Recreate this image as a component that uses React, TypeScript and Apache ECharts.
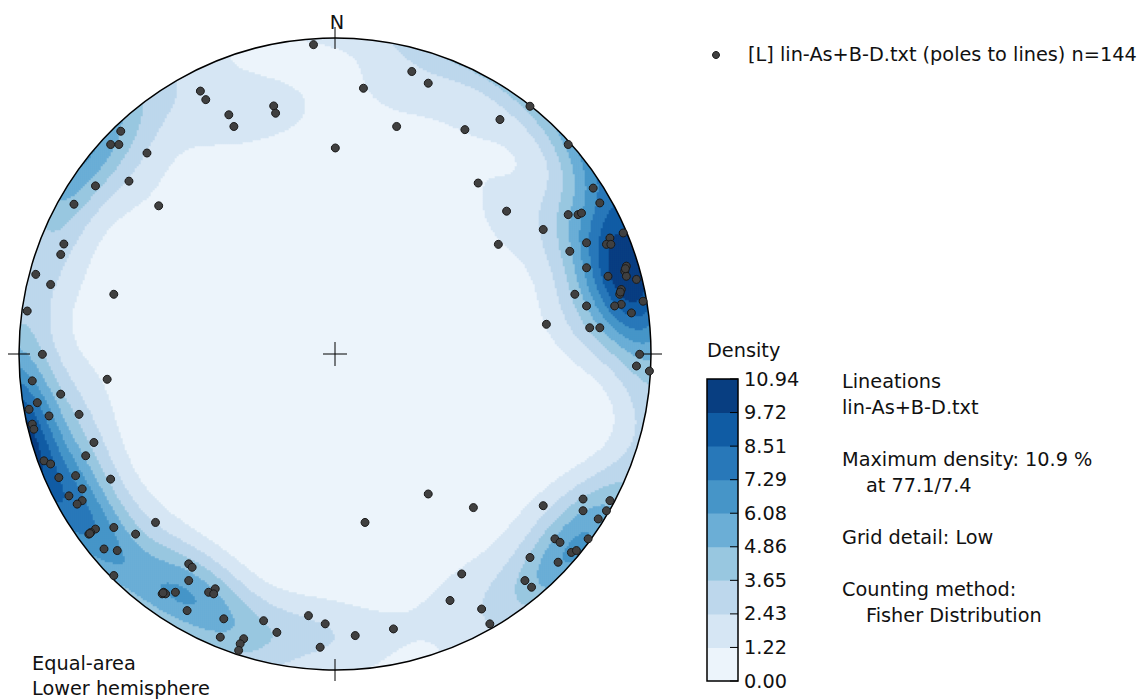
import React, { useEffect, useRef } from "react";
import * as echarts from "echarts";

// Projected (equal-area, lower hemisphere) positions of the lineations,
// as percent of the primitive circle radius: east (x) and north (y).
const pointsX = [
  -6.8, -42.6, -40.9, -33.6, -32.0, -19.4, -18.8, 0.1, -67.8, -71.0, -68.4, -59.5, -75.8, -65.2, -82.6, -55.8,
  -85.8, -86.8, -94.7, -90.0, -70.0, -97.4, -92.6,
  24.3, 29.5, 9.0, 19.5, 41.1, 52.2, 61.7, 73.8, 45.3, 54.3, 51.7, 65.9, 81.7, 83.8, 73.8, 76.9, 78.0, 91.2,
  87.0, 85.9, 87.3, 79.6, 74.3, 79.6, 92.2, 91.7, 92.2, 86.4, 95.4, 90.6, 90.1, 97.5, 90.6, 88.5, 93.8, 75.9,
  79.6, 66.9, 80.6, 83.8, 96.4,
  -72.1, -95.8, -86.8, -94.2, -96.8, -90.5, -81.0, -95.8, -95.3, -76.3, -78.9, -92.1, -90.0, -87.4, -82.1,
  -71.0, -80.0, -84.2, -80.0, -81.6, -75.8, -77.3, -77.9, -70.0, -63.1, -56.8, -73.1, -68.9, -70.0, -46.3,
  -45.2, -46.3, -54.2, -54.7, -53.6, -50.5, -40.0, -37.9, -38.4, -46.8, -35.2, -36.3, -28.9, -30.0, -30.5,
  -22.6, -18.4, -8.4, -3.1, -4.7,
  95.4, 99.5, 29.5, 9.5, 43.8, 65.9, 78.5, 78.5, 87.0, 85.9, 83.3, 69.6, 71.2, 80.1, 74.8, 76.4, 61.7, 70.6,
  60.1, 62.2, 40.1, 36.4, 46.4, 49.0, 18.5, 6.4,
  91.9, 90.3, -54.4, -77.6,
];
const pointsY = [
  97.9, 83.2, 80.5, 75.7, 72.0, 78.5, 76.2, 65.2, 70.5, 66.3, 66.3, 63.6, 53.2, 54.7, 47.4, 46.9,
  34.8, 31.5, 25.2, 22.0, 18.9, 13.6, -0.1,
  89.4, 85.7, 84.1, 72.0, 71.0, 74.2, 78.4, 66.3, 54.1, 45.2, 34.7, 39.4, 52.5, 47.8, 44.1, 44.1, 44.6, 38.3,
  36.7, 34.7, 34.7, 35.2, 32.5, 27.3, 27.8, 26.2, 24.6, 24.6, 23.6, 20.4, 18.9, 16.7, 15.7, 15.2, 13.0, 18.9,
  15.2, 9.4, 8.3, 8.3, -0.1,
  -8.0, -8.5, -12.7, -15.4, -17.5, -19.6, -19.1, -22.2, -23.8, -28.0, -32.2, -33.8, -34.8, -39.1, -38.5,
  -39.6, -42.7, -44.9, -46.4, -47.5, -55.4, -56.5, -57.0, -54.9, -57.0, -53.3, -61.7, -62.2, -70.1, -66.4,
  -67.5, -71.7, -75.4, -75.9, -75.9, -75.4, -75.4, -74.3, -75.9, -81.2, -83.8, -89.6, -90.1, -91.7, -93.8,
  -84.4, -88.1, -82.8, -85.4, -92.8,
  -3.8, -5.4, -44.3, -53.3, -48.6, -48.0, -45.9, -49.6, -46.4, -49.6, -52.2, -58.5, -59.6, -58.5, -62.8, -62.2,
  -64.4, -65.9, -71.7, -73.8, -69.6, -78.0, -80.7, -85.4, -87.0, -89.1,
  27.0, 19.6, -75.6, -56.8,
];

const levels = [0, 1.22, 2.43, 3.65, 4.86, 6.08, 7.29, 8.51, 9.72, 10.94];
const levelLabels = ["0.00", "1.22", "2.43", "3.65", "4.86", "6.08", "7.29", "8.51", "9.72", "10.94"];
const levelColors = [
  "#ecf4fb", "#d6e6f4", "#bdd7ec", "#98c7e0", "#6baed6", "#4695c8", "#2878b9", "#105ca4", "#083e81",
];
const legendLabel = "[L] lin-As+B-D.txt (poles to lines) n=144";
const infoLines = [
  { text: "Lineations", indent: 0, row: 0 },
  { text: "lin-As+B-D.txt", indent: 0, row: 1 },
  { text: "Maximum density: 10.9 %", indent: 0, row: 3 },
  { text: "at 77.1/7.4", indent: 1, row: 4 },
  { text: "Grid detail: Low", indent: 0, row: 6 },
  { text: "Counting method:", indent: 0, row: 8 },
  { text: "Fisher Distribution", indent: 1, row: 9 },
];
const projectionLines = ["Equal-area", "Lower hemisphere"];

const KAPPA = 50;
const GRID_N = 316;

function toVec(x: number, y: number): [number, number, number] {
  const r = Math.min(1, Math.hypot(x, y));
  const th = 2 * Math.asin(r / Math.SQRT2);
  const az = Math.atan2(x, y);
  return [Math.sin(th) * Math.sin(az), Math.sin(th) * Math.cos(az), -Math.cos(th)];
}

function buildDensity() {
  const vecs = pointsX.map((x, i) => toVec(x / 100, pointsY[i] / 100));
  const raw: [number, number, number][] = [];
  let maxV = 0;
  const step = 2 / GRID_N;
  for (let i = 0; i < GRID_N; i++) {
    const u = -1 + (i + 0.5) * step;
    for (let j = 0; j < GRID_N; j++) {
      const v = -1 + (j + 0.5) * step;
      if (Math.hypot(u, v) > 1 + step * 2) continue;
      const g = toVec(u, v);
      let s = 0;
      for (const p of vecs) {
        const c = Math.abs(g[0] * p[0] + g[1] * p[1] + g[2] * p[2]);
        s += Math.exp(KAPPA * (c - 1));
      }
      if (s > maxV) maxV = s;
      raw.push([i, j, s]);
    }
  }
  const top = levels[levels.length - 1];
  return raw.map((d) => [d[0], d[1], (d[2] / maxV) * top]);
}

export default function App() {
  const ref = useRef<HTMLDivElement>(null);
  useEffect(() => {
    if (!ref.current) return;
    const chart = echarts.init(ref.current, null, { renderer: "svg" });
    const CX = 335, CY = 354, R = 316;
    const FONT = '19.3px "DejaVu Sans"';
    const TXT = "#111";
    const density = buildDensity();
    const cats = Array.from({ length: GRID_N }, (_, i) => String(i));

    const pieces = levelColors.map((c, i) =>
      i === levelColors.length - 1
        ? { gte: levels[i], lte: levels[i + 1] + 1, color: c }
        : { gte: levels[i], lt: levels[i + 1], color: c }
    );

    const g: any[] = [];
    // mask outside the primitive circle
    g.push({ type: "ring", z: 30, silent: true, shape: { cx: CX, cy: CY, r: R + 30, r0: R }, style: { fill: "#fff" } });
    g.push({ type: "circle", z: 40, silent: true, shape: { cx: CX, cy: CY, r: R }, style: { fill: "none", stroke: "#000", lineWidth: 1.5 } });
    const tk = 11;
    const seg = (x1: number, y1: number, x2: number, y2: number) =>
      g.push({ type: "line", z: 40, silent: true, shape: { x1, y1, x2, y2 }, style: { stroke: "#000", lineWidth: 1 } });
    seg(CX, CY - R - tk, CX, CY - R + tk);
    seg(CX, CY + R - tk, CX, CY + R + tk);
    seg(CX - R - tk, CY, CX - R + tk, CY);
    seg(CX + R - tk, CY, CX + R + tk, CY);
    seg(CX - 12, CY, CX + 12, CY);
    seg(CX, CY - 12, CX, CY + 12);
    const text = (x: number, y: number, t: string, align = "left") =>
      g.push({
        type: "text", z: 40, silent: true,
        style: { x, y, text: t, font: FONT, fill: TXT, textAlign: align, textVerticalAlign: "middle", align, verticalAlign: "middle" },
      });
    text(337, 22, "N", "center");
    projectionLines.forEach((t, i) => text(32, 663 + i * 25, t));
    // legend
    g.push({ type: "circle", z: 40, silent: true, shape: { cx: 716, cy: 55, r: 3.5 }, style: { fill: "#404040", stroke: "#1a1a1a", lineWidth: 1 } });
    text(748, 54, legendLabel);
    // colorbar
    const bx = 707, bw = 31, byTop = 379, byBot = 681;
    const bh = (byBot - byTop) / levelColors.length;
    text(707, 350, "Density");
    levelColors.forEach((c, i) => {
      g.push({ type: "rect", z: 40, silent: true, shape: { x: bx, y: byBot - (i + 1) * bh, width: bw, height: bh + 0.5 }, style: { fill: c } });
    });
    g.push({ type: "rect", z: 41, silent: true, shape: { x: bx, y: byTop, width: bw, height: byBot - byTop }, style: { fill: "none", stroke: "#000", lineWidth: 1.5 } });
    levelLabels.forEach((l, i) => {
      const y = byBot - i * bh;
      g.push({ type: "line", z: 41, silent: true, shape: { x1: bx + bw - 8, y1: y, x2: bx + bw, y2: y }, style: { stroke: "#000", lineWidth: 1 } });
      text(744, y, l);
    });
    infoLines.forEach((l) => text(842 + l.indent * 24, 381 + l.row * 26, l.text));

    chart.setOption({
      animation: false,
      backgroundColor: "#fff",
      grid: [
        { left: CX - R, top: CY - R, width: 2 * R, height: 2 * R, outerBoundsMode: "none" },
        { left: CX - R, top: CY - R, width: 2 * R, height: 2 * R, outerBoundsMode: "none" },
      ],
      xAxis: [
        { type: "category", data: cats, gridIndex: 0, show: false },
        { type: "value", min: -1, max: 1, gridIndex: 1, show: false },
      ],
      yAxis: [
        { type: "category", data: cats, gridIndex: 0, show: false },
        { type: "value", min: -1, max: 1, gridIndex: 1, show: false },
      ],
      visualMap: { type: "piecewise", show: false, seriesIndex: 0, dimension: 2, pieces },
      graphic: { elements: g },
      series: [
        {
          type: "heatmap",
          xAxisIndex: 0,
          yAxisIndex: 0,
          data: density,
          progressive: 0,
          silent: true,
          z: 1,
          itemStyle: { borderWidth: 0 },
        },
        {
          type: "scatter",
          xAxisIndex: 1,
          yAxisIndex: 1,
          data: pointsX.map((x, i) => [x / 100, pointsY[i] / 100]),
          symbol: "circle",
          symbolSize: 8,
          silent: true,
          z: 50,
          itemStyle: { color: "#404040", borderColor: "#1a1a1a", borderWidth: 1, opacity: 1 },
        },
      ],
    });
    return () => chart.dispose();
  }, []);
  return <div ref={ref} style={{ position: "fixed", left: 0, top: 0, width: 1142, height: 700 }} />;
}
